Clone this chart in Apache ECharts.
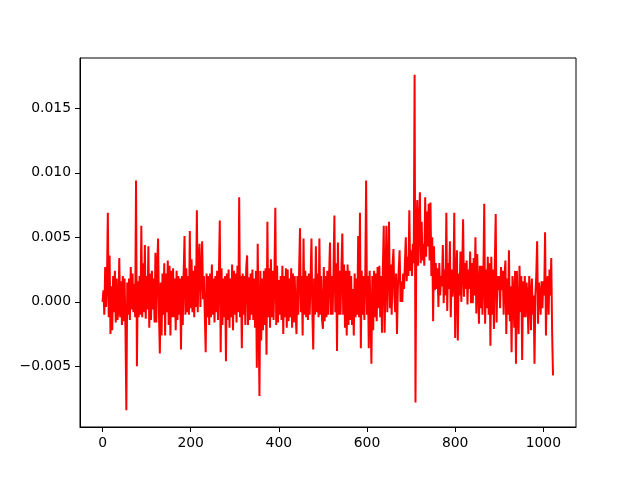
<!DOCTYPE html>
<html>
<head>
<meta charset="utf-8">
<script src="https://cdn.jsdelivr.net/npm/echarts@6/dist/echarts.min.js"></script>
<style>html,body{margin:0;padding:0;background:#fff}#c{width:640px;height:480px}</style>
</head>
<body>
<div id="c"></div>
<script>
// sample spacing (x units between stored samples)
const STEP = 2;
// values in units of 1e-4, read/ (one per STEP samples)
const valuesE4 = [
  0, 9, -10, 27, -4, 15, 69, -12, 36, -25,
  12, -22, 20, -8, 24, -16, 18, -14, -6, 34,
  -12, 16, -18, 20, -15, 18, -20, -84, 15, -10,
  18, -14, 27, -6, 22, -8, 14, -12, 94, -50,
  16, -12, 20, -10, 59, -12, 30, -8, 44, -13,
  20, -6, 43, -20, 22, -14, 24, -6, 18, -16,
  38, -16, 26, 49, -8, -40, 15, -26, 22, -10,
  30, -26, 22, -8, 32, -18, 28, -26, 24, -12,
  26, -12, 18, -22, 24, -14, 20, -10, 18, -37,
  20, -18, 22, 51, -10, 26, -8, 20, -10, 55,
  -5, 33, -8, 24, -12, 28, -4, 71, -8, 30,
  45, -4, 22, 47, 2, 20, -10, -39, 22, -12,
  20, -18, 22, -12, 29, -10, 18, -16, 20, -8,
  24, -14, 22, 63, -39, 26, -18, 18, -12, 20,
  -46, 22, -14, 25, -20, 18, -12, 29, -22, 24,
  -10, 22, -16, 28, -8, 81, -12, 20, -36, 22,
  -10, 20, -18, 26, 36, -18, 19, -14, 22, -10,
  25, -14, 18, -20, 24, -51, 45, -12, -73, 24,
  -30, 18, -22, 24, -18, 26, -41, 62, -12, 26,
  -20, 33, -12, 24, -14, 20, 73, -18, 28, -16,
  17, -10, 20, -14, 28, -25, 20, -12, 26, -20,
  25, -15, 18, -12, 26, -20, 22, -16, 20, -8,
  -25, 20, -10, 24, 57, -8, 20, -26, 49, -10,
  24, -12, 20, -14, 22, -10, 18, 49, -8, -37,
  18, -10, 43, -8, 22, -12, 49, -10, 20, -14,
  -21, 27, -15, 20, -12, 24, -10, 20, 46, -10,
  20, -10, 24, 67, -8, 30, -38, 46, -10, 24,
  -10, 26, 53, -10, 29, -20, 24, -26, 29, -18,
  24, -14, 20, -18, 10, -26, 22, -12, 18, -10,
  51, -12, 69, -36, 24, -10, 20, -14, 18, 94,
  -10, 20, -36, 24, -10, -48, 20, -22, 24, -12,
  22, -15, 27, -5, 28, -12, 20, -24, 26, 59,
  -24, 20, 59, -8, 24, 62, -5, 29, -10, 28,
  41, 5, -8, 22, -25, 10, 25, 40, 0, 16,
  0, 22, 10, 30, 50, 16, 35, 20, 71, 24,
  40, 20, 45, 30, 176, -78, 55, 79, 28, 60,
  85, 30, 62, 32, 45, 28, 81, 35, 70, 43,
  76, 32, 77, 20, 50, -15, 43, 9, 30, 10,
  26, -4, 30, 5, 20, 12, 44, -1, 25, 5,
  69, -7, 30, 10, 47, -12, 25, 4, 15, 69,
  -28, 20, 40, -30, 22, 5, 39, 0, 25, 64,
  4, 30, 10, 32, -2, 25, 10, 39, -1, 30,
  -1, 34, 5, 50, -9, 37, 10, -17, 28, -5,
  28, -10, 20, 76, -17, 25, -5, 35, -10, 30,
  -34, 35, -10, 25, -21, 30, 68, -16, 20, 9,
  20, -5, 27, 9, 24, -10, 20, 32, -25, 18,
  -10, 40, -15, 12, -39, 20, 10, -20, 24, -48,
  24, -10, -25, 28, -8, 20, -45, 16, -12, 20,
  -12, 15, 5, -25, 20, 6, -22, 18, -10, 5,
  -48, 5, 20, 47, -17, 15, 7, -10, 16, -5,
  16, 5, 54, -26, 13, 20, -10, 25, 5, 34,
  -24, -57
];
const xTicks = [0, 200, 400, 600, 800, 1000];
const yTicks = [-0.005, 0, 0.005, 0.010, 0.015];

const seriesData = valuesE4.map((v, i) => [i * STEP, v * 1e-4]);

const chart = echarts.init(document.getElementById('c'), null, {renderer: 'canvas'});
const FONT = 'DejaVu Sans';
const fmtY = v => (v < 0 ? '\u2212' : '') + Math.abs(v).toFixed(3);
chart.setOption({
  animation: false,
  backgroundColor: '#ffffff',
  grid: {left: 80, right: 64, top: 58, bottom: 53, show: true, borderColor: '#000', borderWidth: 1, backgroundColor: 'transparent'},
  xAxis: {
    type: 'value', min: -51.15, max: 1074.15,
    splitLine: {show: false},
    axisLine: {show: true, onZero: false, lineStyle: {color: '#000', width: 1}},
    axisTick: {show: true, length: 5, customValues: xTicks, lineStyle: {color: '#000', width: 1}},
    axisLabel: {show: true, customValues: xTicks, margin: 9, color: '#000', fontFamily: FONT, fontSize: 13.9,
      formatter: v => String(v)}
  },
  yAxis: {
    type: 'value', min: -0.0097, max: 0.0189,
    splitLine: {show: false},
    axisLine: {show: true, onZero: false, lineStyle: {color: '#000', width: 1}},
    axisTick: {show: true, length: 5, customValues: yTicks, lineStyle: {color: '#000', width: 1}},
    axisLabel: {show: true, customValues: yTicks, margin: 9, color: '#000', fontFamily: FONT, fontSize: 13.9,
      formatter: fmtY}
  },
  series: [{
    type: 'line', data: seriesData, showSymbol: false, symbol: 'none',
    lineStyle: {color: '#ff0000', width: 2}, itemStyle: {color: '#ff0000'},
    sampling: null, clip: true
  }]
});
</script>
</body>
</html>
